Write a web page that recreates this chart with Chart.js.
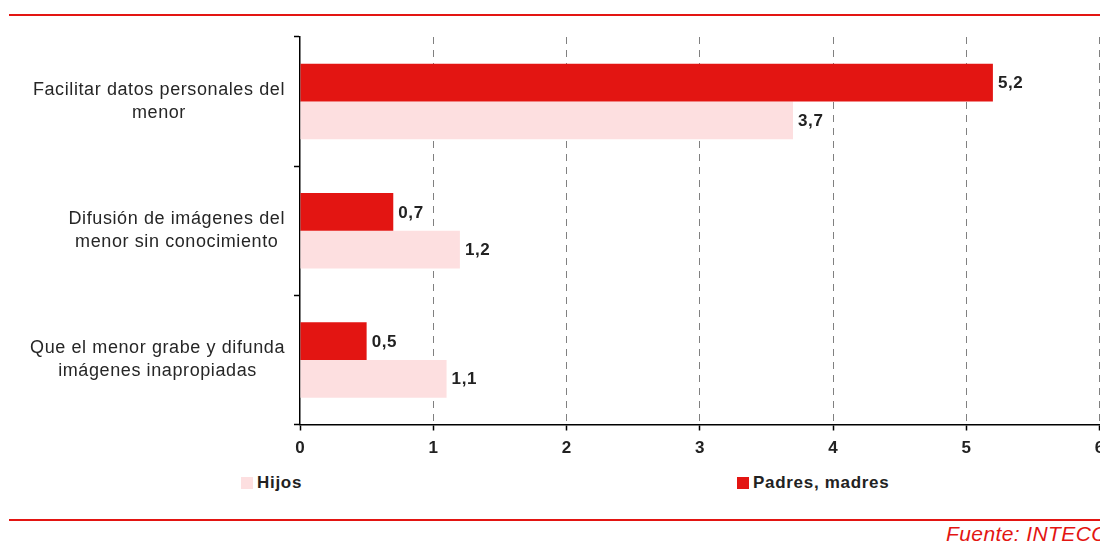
<!DOCTYPE HTML>
<html lang="es">
<head>
    <meta charset="UTF-8">
    <title>Riesgos</title>
    <style>
        body {
            margin: 0;
            width: 1100px;
            height: 543px;
            overflow: hidden;
            background: #fff;
            font-family: "Liberation Sans", Arial, sans-serif;
            position: relative;
        }
        .linea {
            position: absolute;
            left: 9px;
            width: 1100px;
            background: #e31512;
        }
        #chart-box {
            position: absolute;
            left: 0;
            top: 0;
        }
        .leyenda {
            position: absolute;
            top: 473px;
            font-size: 17px;
            font-weight: bold;
            letter-spacing: 0.7px;
            color: #222;
            white-space: nowrap;
        }
        .leyenda span {
            display: inline-block;
            width: 12px;
            height: 12px;
            margin-right: 4px;
            vertical-align: -1px;
        }
        #fuente {
            position: absolute;
            left: 946px;
            top: 522px;
            font-size: 21px;
            font-style: italic;
            letter-spacing: 0.4px;
            color: #e31512;
            white-space: nowrap;
        }
    </style>
</head>
<body>
    <div class="linea" style="top:14px;height:2px;"></div>
    <div id="chart-box"><canvas id="chart" width="1120" height="461"></canvas></div>
    <div class="leyenda" style="left:241px;"><span style="background:#fddfe0"></span>Hijos</div>
    <div class="leyenda" style="left:737px;"><span style="background:#e31512"></span>Padres, madres</div>
    <div class="linea" style="top:518.5px;height:2px;"></div>
    <div id="fuente">Fuente: INTECO</div>

    <script src="https://cdn.jsdelivr.net/npm/chart.js"></script>
    <script>
        // Datos
        const categorias = [
            ["Facilitar datos personales del", "menor"],
            ["Difusión de imágenes del", "menor sin conocimiento"],
            ["Que el menor grabe y difunda", "imágenes inapropiadas"]
        ];
        const padres = [5.2, 0.7, 0.5];
        const hijos = [3.7, 1.2, 1.1];
        const ejeX = { min: 0, max: 6, paso: 1 };

        const fuente = '"Liberation Sans", Arial, sans-serif';

        // Etiquetas de categoría (centradas dentro de su bloque, alineado a la derecha)
        const etiquetasY = {
            id: 'etiquetasY',
            afterDraw(chart) {
                const ctx = chart.ctx;
                const y = chart.scales.y;
                ctx.save();
                ctx.font = '18px ' + fuente;
                ctx.letterSpacing = '0.6px';
                ctx.fillStyle = '#262626';
                ctx.textBaseline = 'middle';
                ctx.textAlign = 'center';
                const lh = 23;
                categorias.forEach((lineas, i) => {
                    const ancho = Math.max(...lineas.map(l => ctx.measureText(l).width));
                    const cx = y.right - 15 - ancho / 2;
                    const cy = y.getPixelForValue(i);
                    lineas.forEach((l, j) => {
                        ctx.fillText(l, cx, cy - (lineas.length - 1) * lh / 2 + j * lh);
                    });
                });
                ctx.restore();
            }
        };

        // Valores al final de cada barra
        const valores = {
            id: 'valores',
            afterDatasetsDraw(chart) {
                const ctx = chart.ctx;
                ctx.save();
                ctx.font = 'bold 17px ' + fuente;
                ctx.letterSpacing = '0.6px';
                ctx.fillStyle = '#222';
                ctx.textAlign = 'left';
                ctx.textBaseline = 'middle';
                chart.data.datasets.forEach((ds, d) => {
                    chart.getDatasetMeta(d).data.forEach((bar, i) => {
                        const txt = ds.data[i].toFixed(1).replace('.', ',');
                        ctx.fillText(txt, bar.x + 5, bar.y + 1);
                    });
                });
                ctx.restore();
            }
        };

        new Chart(document.getElementById('chart'), {
            type: 'bar',
            data: {
                labels: categorias,
                datasets: [
                    {
                        label: 'Padres, madres',
                        data: padres,
                        backgroundColor: '#e31512',
                        categoryPercentage: 0.585,
                        barPercentage: 1
                    },
                    {
                        label: 'Hijos',
                        data: hijos,
                        backgroundColor: '#fddfe0',
                        categoryPercentage: 0.585,
                        barPercentage: 1
                    }
                ]
            },
            options: {
                indexAxis: 'y',
                responsive: false,
                animation: false,
                layout: { padding: { top: 37, right: 20.5, left: 0, bottom: 0 } },
                plugins: {
                    legend: { display: false },
                    tooltip: { enabled: false }
                },
                scales: {
                    x: {
                        min: ejeX.min,
                        max: ejeX.max,
                        afterFit(s) { s.height = 36.5; },
                        ticks: {
                            stepSize: ejeX.paso,
                            color: '#222',
                            padding: 8,
                            font: { family: fuente, size: 17, weight: 'bold' }
                        },
                        grid: {
                            color: c => (c.tick && c.tick.value === 0) ? 'rgba(0,0,0,0)' : '#808080',
                            lineWidth: 1,
                            tickColor: '#000',
                            tickWidth: 1.5,
                            tickLength: 6
                        },
                        border: { color: '#000', width: 1.5, dash: [7, 6] }
                    },
                    y: {
                        afterFit(s) { s.width = 300; },
                        ticks: { display: false },
                        grid: {
                            drawOnChartArea: false,
                            tickColor: '#000',
                            tickWidth: 1.5,
                            tickLength: 6,
                            offset: true
                        },
                        border: { color: '#000', width: 1.5 }
                    }
                }
            },
            plugins: [etiquetasY, valores]
        });
    </script>
</body>
</html>
